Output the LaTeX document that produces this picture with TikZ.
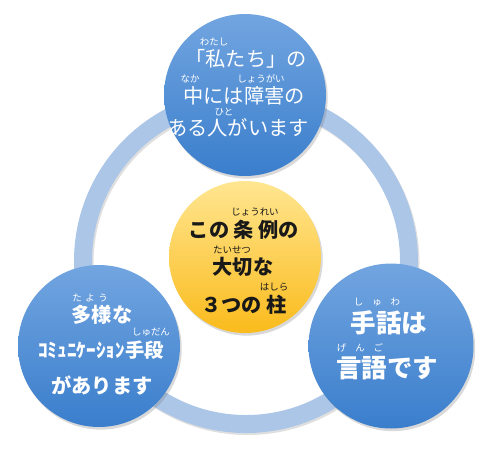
\documentclass[tikz,border=0pt]{standalone}
\usepackage{fontspec}
\newfontfamily\jp{Noto Sans CJK JP}
\usetikzlibrary{shadows}

\definecolor{bubbletop}{RGB}{114,165,224}
\definecolor{bubblebot}{RGB}{58,126,204}
\definecolor{coretop}{RGB}{255,230,145}
\definecolor{corebot}{RGB}{250,187,28}
\definecolor{ringblue}{RGB}{172,198,232}

\tikzset{
  bubble/.style={circle, draw=none, inner sep=0pt, minimum size=3.24cm,
    top color=bubbletop, bottom color=bubblebot,
    drop shadow={opacity=0.3, shadow xshift=1pt, shadow yshift=-1.5pt}},
  corebubble/.style={bubble, minimum size=3.04cm,
    top color=coretop, bottom color=corebot},
  wline/.style={text=white, inner sep=0pt, font=\jp\fontsize{11.5}{11.5}\selectfont},
  bline/.style={text=black!90, inner sep=0pt, font=\jp\bfseries\fontsize{11.5}{11.5}\selectfont},
  wruby/.style={text=white, inner sep=0pt, font=\jp\fontsize{5.4}{5.4}\selectfont},
  bruby/.style={wruby, text=black!90}
}

\begin{document}
\begin{tikzpicture}[x=0.02cm, y=-0.02cm]
  \useasboundingbox (0,0) rectangle (492,458);
  % ring behind the circles
  \draw[line width=0.36cm, black!25, opacity=0.5] (247.5,263) circle[radius=163];
  \draw[line width=0.36cm, ringblue] (246,261) circle[radius=163];
  % circles
  \node[bubble, minimum size=3.24cm] (upper) at (245,95) {};
  \node[bubble] (lefty) at (99,346) {};
  \node[bubble, minimum size=3.3cm] (righty) at (391,346) {};
  \node[corebubble] (core) at (245,257) {};
  % upper circle text
  \node[wline] (u1) at (246,59) {「私たち」の};
  \node[wline] (u2) at (244,96) {中には障害の};
  \node[wline] (u3) at (238,128) {ある人がいます};
  \node[wruby] (u1r) at (214,42) {わたし};
  \node[wruby] (u2ra) at (190,79) {なか};
  \node[wruby] (u2rb) at (261,79) {しょうがい};
  \node[wruby] (u3r) at (224,112) {ひと};
  % core text
  \node[bline] (c1) at (244,230) {この 条 例の};
  \node[bline] (c2) at (243,267) {大切な};
  \node[bline] (c3) at (244,305) {３つの 柱};
  \node[bruby] (c1r) at (255,212) {じょうれい};
  \node[bruby] (c2r) at (232,250) {たいせつ};
  \node[bruby] (c3r) at (274,287) {はしら};
  % left circle text
  \node[wline, font=\jp\bfseries\fontsize{11.5}{11.5}\selectfont] (l1) at (102,315) {多様な};
  \node[wline, font=\jp\bfseries\fontsize{11}{11}\selectfont] (l2) at (101,350) {ｺﾐｭﾆｹｰｼｮﾝ手段};
  \node[wline, font=\jp\bfseries\fontsize{11.5}{11.5}\selectfont] (l3) at (102,385) {があります};
  \node[wruby] (l1r) at (90,298) {た\hspace{2pt}よ\hspace{2pt}う};
  \node[wruby] (l2r) at (151,332) {しゅだん};
  % right circle text
  \node[wline, font=\jp\bfseries\fontsize{14.5}{14.5}\selectfont] (r1) at (389,323) {手話は};
  \node[wline, font=\jp\bfseries\fontsize{14.5}{14.5}\selectfont] (r2) at (387,368) {言語です};
  \node[wruby] (r1r) at (377,302) {し\hspace{5pt}ゅ\hspace{5pt}わ};
  \node[wruby] (r2r) at (360,348) {げ\hspace{5pt}ん\hspace{5pt}ご};
\end{tikzpicture}
\end{document}
